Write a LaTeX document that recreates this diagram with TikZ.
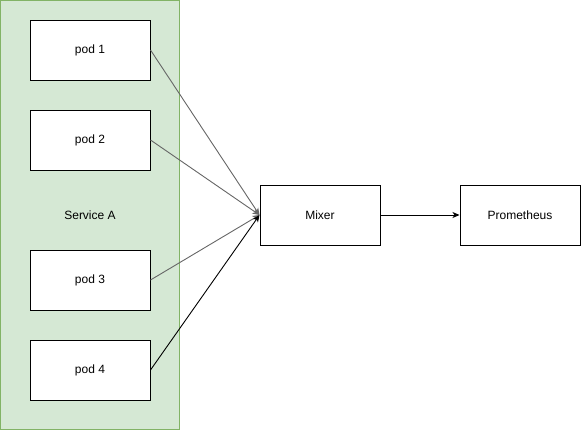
\documentclass[tikz,border=0pt]{standalone}
\usepackage{fontspec}
\setmainfont{Liberation Sans}
\usetikzlibrary{arrows.meta}
\definecolor{grfill}{HTML}{D5E8D4}
\definecolor{grline}{HTML}{82B366}
\definecolor{greyline}{HTML}{666666}
\begin{document}
\begin{tikzpicture}[x=1pt,y=-1pt,
  box/.style={draw=black,fill=white,line width=1pt,minimum width=120pt,minimum height=60pt,inner sep=0pt,font=\fontsize{12}{14}\selectfont},
  conn/.style={line width=0.9pt,-{Stealth[length=7pt,width=6pt,inset=2pt]}},
  greyconn/.style={conn,draw=greyline}]
\useasboundingbox (0,0) rectangle (581,431);
\node[draw=grline,fill=grfill,line width=1pt,minimum width=179pt,minimum height=429pt,inner sep=0pt,font=\fontsize{12}{14}\selectfont] (svc) at (90,215) {Service A};
\node[box] (p1) at (90,50) {pod 1};
\node[box] (p2) at (90,140) {pod 2};
\node[box] (p3) at (90,280) {pod 3};
\node[box] (p4) at (90,370) {pod 4};
\node[box] (mix) at (320,215) {Mixer};
\node[box] (prom) at (520,215) {Prometheus};
\draw[greyconn] (p1.east) -- (mix.west);
\draw[greyconn] (p2.east) -- (mix.west);
\draw[greyconn] (p3.east) -- (mix.west);
\draw[conn] (p4.east) -- (mix.west);
\draw[conn] (mix.east) -- (prom.west);
\end{tikzpicture}
\end{document}
